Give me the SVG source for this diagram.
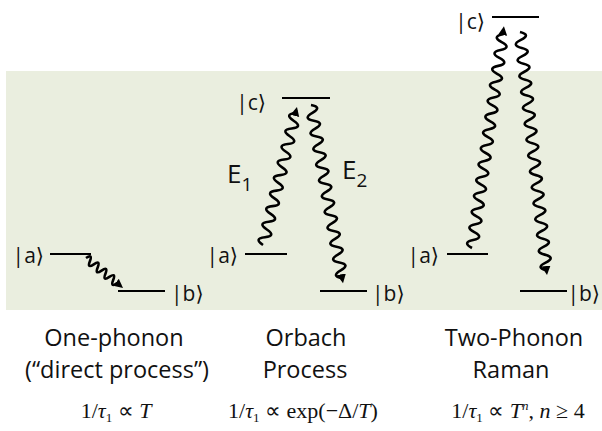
<svg xmlns="http://www.w3.org/2000/svg" width="602" height="431" viewBox="0 0 602 431">
<style>
.lvl{stroke:#000;stroke-width:2.2;fill:none}
.wave{stroke:#000;stroke-width:2.6;fill:none;stroke-linejoin:round;marker-end:url(#ah)}
.ket{font-family:"Open Sans","DejaVu Sans",sans-serif;font-size:21px;fill:#111}
.cap{font-family:"Open Sans","Liberation Sans",sans-serif;font-size:23.5px;fill:#111;text-anchor:middle}
.en{font-family:"Open Sans","Liberation Sans",sans-serif;font-size:26px;fill:#111}
.eq{font-family:"Liberation Serif","Times New Roman",serif;font-size:22px;fill:#111;text-anchor:middle}
.it{font-style:italic}
.sub{font-size:13px}
</style>
<defs>
<marker id="ah" markerUnits="userSpaceOnUse" markerWidth="12" markerHeight="12" refX="6" refY="5" orient="auto">
<path d="M0,0.5 L9,5 L0,9.5 Z" fill="#000"/>
</marker>
</defs>
<rect x="6" y="71" width="596" height="239" fill="#eaeedf"/>

<g id="panel1">
<g id="p1-a"><line class="lvl" x1="50" y1="254" x2="91" y2="254"/><text class="ket" x="44" y="263" text-anchor="end">|a⟩</text></g>
<g id="p1-b"><line class="lvl" x1="118" y1="291" x2="165" y2="291"/><text class="ket" x="171" y="301">|b⟩</text></g>
</g>
<g id="panel2">
<g id="p2-c"><line class="lvl" x1="282" y1="98" x2="330" y2="98"/><text class="ket" x="266" y="110" text-anchor="end">|c⟩</text></g>
<g id="p2-a"><line class="lvl" x1="245" y1="254" x2="287" y2="254"/><text class="ket" x="238" y="263" text-anchor="end">|a⟩</text></g>
<g id="p2-b"><line class="lvl" x1="320" y1="291" x2="367" y2="291"/><text class="ket" x="372" y="301">|b⟩</text></g>
<g id="p2-e1"><text class="en" x="227" y="183">E<tspan style="font-size:19px" dy="8">1</tspan></text></g>
<g id="p2-e2"><text class="en" x="342" y="179">E<tspan style="font-size:19px" dy="8">2</tspan></text></g>
</g>
<g id="panel3">
<g id="p3-c"><line class="lvl" x1="492" y1="17" x2="539" y2="17"/><text class="ket" x="485" y="29" text-anchor="end">|c⟩</text></g>
<g id="p3-a"><line class="lvl" x1="447" y1="254" x2="488" y2="254"/><text class="ket" x="439" y="263" text-anchor="end">|a⟩</text></g>
<g id="p3-b"><line class="lvl" x1="520" y1="291" x2="567" y2="291"/><text class="ket" x="600" y="301" text-anchor="end">|b⟩</text></g>
</g>

<g id="connectors">
<path class="wave" transform="translate(86,258) rotate(39)" d="M0,0 q2.5,-8 5,0 t5,0 t5,0 t5,0 t5,0 t5,0 t5,0 t5,0 L44.6,0"/>
<path class="wave" transform="translate(263,245) rotate(-76.16)" d="M0,0 q4,-11 8,0 t8,0 t8,0 t8,0 t8,0 t8,0 t8,0 t8,0 t8,0 t8,0 t8,0 t8,0 t8,0 t8,0 t8,0 t8,0 t8,0 L139,0"/>
<path class="wave" transform="translate(311,105) rotate(79.81)" d="M0,0 q4,-11 8,0 t8,0 t8,0 t8,0 t8,0 t8,0 t8,0 t8,0 t8,0 t8,0 t8,0 t8,0 t8,0 t8,0 t8,0 t8,0 t8,0 t8,0 t8,0 t8,0 t8,0 t8,0 L178,0"/>
<path class="wave" transform="translate(472,248) rotate(-81.8)" d="M0,0 q4,-11 8,0 t8,0 t8,0 t8,0 t8,0 t8,0 t8,0 t8,0 t8,0 t8,0 t8,0 t8,0 t8,0 t8,0 t8,0 t8,0 t8,0 t8,0 t8,0 t8,0 t8,0 t8,0 t8,0 t8,0 t8,0 t8,0 t8,0 L221,0"/>
<path class="wave" transform="translate(520,32) rotate(83.66)" d="M0,0 q4,-11 8,0 t8,0 t8,0 t8,0 t8,0 t8,0 t8,0 t8,0 t8,0 t8,0 t8,0 t8,0 t8,0 t8,0 t8,0 t8,0 t8,0 t8,0 t8,0 t8,0 t8,0 t8,0 t8,0 t8,0 t8,0 t8,0 t8,0 t8,0 t8,0 t8,0 L241.5,0"/>
</g>

<g id="captions">
<text class="cap" x="114" y="346">One-phonon</text>
<text class="cap" x="117" y="378">(“direct process”)</text>
<text class="cap" x="306" y="346">Orbach</text>
<text class="cap" x="305" y="378">Process</text>
<text class="cap" x="514" y="346">Two-Phonon</text>
<text class="cap" x="511" y="378">Raman</text>
<text class="eq" x="116" y="418">1/<tspan class="it">τ</tspan><tspan class="sub" dy="4">1</tspan><tspan dy="-4"> ∝ </tspan><tspan class="it">T</tspan></text>
<text class="eq" x="303" y="418">1/<tspan class="it">τ</tspan><tspan class="sub" dy="4">1</tspan><tspan dy="-4"> ∝ exp(−Δ/</tspan><tspan class="it">T</tspan>)</text>
<text class="eq" x="518" y="418">1/<tspan class="it">τ</tspan><tspan class="sub" dy="4">1</tspan><tspan dy="-4"> ∝ </tspan><tspan class="it">T</tspan><tspan class="it sub" dy="-8">n</tspan><tspan dy="8">, </tspan><tspan class="it">n</tspan> ≥ 4</text>
</g>
</svg>
